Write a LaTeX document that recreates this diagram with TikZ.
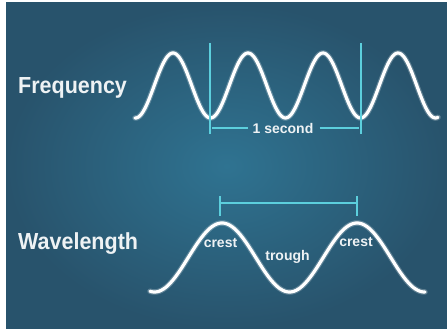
\documentclass[tikz,border=0pt]{standalone}
\usepackage{fontspec}
\setmainfont{Liberation Sans}
\definecolor{bgouter}{HTML}{28536C}
\definecolor{bginner}{HTML}{2F7391}
\definecolor{cyanline}{HTML}{5CCFDD}
\definecolor{txt}{HTML}{EEF2F4}
\tikzset{
  wave/.style={white, line width=3.2pt, line cap=round},
  glow/.style={white, opacity=0.25, line width=5.5pt, line cap=round},
  marker/.style={cyanline, line width=1.3pt},
  bigtext/.style={txt, font=\bfseries\fontsize{21.5}{24}\selectfont, anchor=base west, inner sep=0pt, yscale=1.08},
  smalltext/.style={txt, font=\bfseries\fontsize{14}{16}\selectfont, inner sep=0pt}
}
\begin{document}
\begin{tikzpicture}[x=1pt,y=-1pt]
\useasboundingbox (0,0) rectangle (447,329);
\fill[white] (0,0) rectangle (447,329);
\shade[inner color=bginner, outer color=bgouter] (6,3) rectangle (447,329);
% labels
\node[bigtext] (freq) at (18,93) {Frequency};
\node[bigtext] (wave) at (18,249) {Wavelength};
% frequency wave
\draw[glow] plot[domain=135:438, samples=220, smooth] (\x, {85.5-32.5*cos(4.8*(\x-173))});
\draw[wave] plot[domain=135:438, samples=220, smooth] (\x, {85.5-32.5*cos(4.8*(\x-173))});
% frequency markers
\coordinate (fa1) at (210,43);
\coordinate (fa2) at (210,134);
\coordinate (fb1) at (361,43);
\coordinate (fb2) at (361,134);
\draw[marker] (fa1) -- (fa2);
\draw[marker] (fb1) -- (fb2);
\node[smalltext] (sec) at (283,128) {1 second};
\coordinate (la) at (212,128);
\coordinate (lb) at (359,128);
\draw[marker] (la) -- ([xshift=-4pt]sec.west);
\draw[marker] ([xshift=6pt]sec.east) -- (lb);
% wavelength wave
\draw[glow] plot[domain=150:425, samples=200, smooth] (\x, {257.5-34.5*cos(2.6666667*(\x-222))});
\draw[wave] plot[domain=150:425, samples=200, smooth] (\x, {257.5-34.5*cos(2.6666667*(\x-222))});
% wavelength bracket
\coordinate (wa1) at (220,196);
\coordinate (wa2) at (220,216);
\coordinate (wb1) at (357,196);
\coordinate (wb2) at (357,216);
\coordinate (wm1) at (220,203);
\coordinate (wm2) at (357,203);
\draw[marker] (wa1) -- (wa2);
\draw[marker] (wb1) -- (wb2);
\draw[marker] (wm1) -- (wm2);
% crest / trough labels
\node[smalltext] (c1) at (220.5,243) {crest};
\node[smalltext] (c2) at (356,242) {crest};
\node[smalltext] (tr) at (287.5,257) {trough};
\end{tikzpicture}
\end{document}
